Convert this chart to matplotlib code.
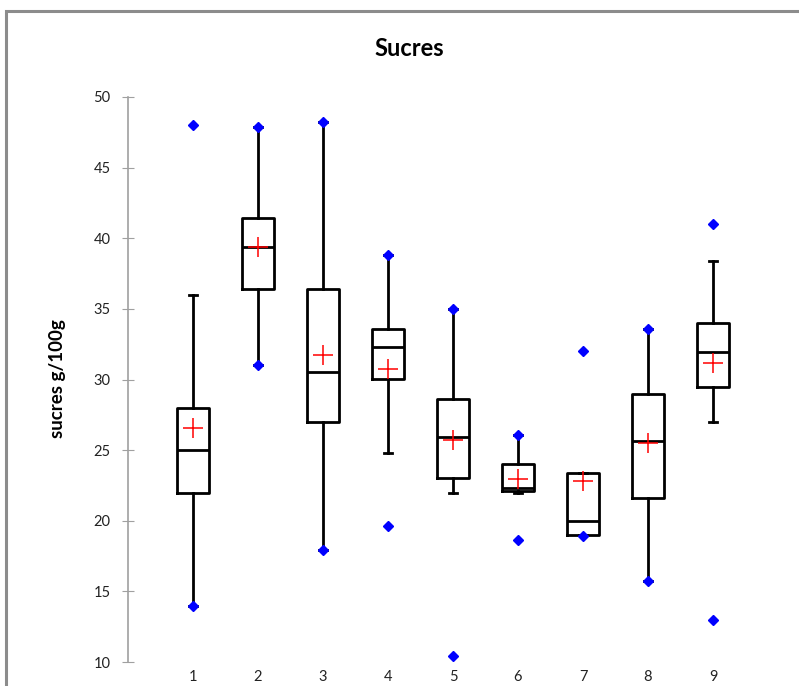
import matplotlib.pyplot as plt
import matplotlib.patches as patches

plt.rcParams['font.family'] = ['Lato', 'DejaVu Sans']

groups = ['1', '2', '3', '4', '5', '6', '7', '8', '9']
q1 = [22.0, 36.4, 27.0, 30.05, 23.05, 22.08, 19.0, 21.6, 29.45]
med = [25.0, 39.35, 30.5, 32.3, 25.9, 22.3, 20.0, 25.65, 31.95]
q3 = [28.0, 41.4, 36.4, 33.6, 28.6, 24.0, 23.35, 29.0, 34.0]
means = [26.6, 39.4, 31.75, 30.75, 25.75, 22.95, 22.8, 25.5, 31.2]
whis_lo = [14.0, 31.0, 17.95, 24.8, 22.0, 22.0, 19.0, 15.7, 27.0]
whis_hi = [36.0, 47.85, 48.2, 38.8, 35.0, 26.1, 23.35, 33.6, 38.4]
vmin = [14.0, 31.0, 17.95, 19.65, 10.45, 18.65, 18.9, 15.7, 12.95]
vmax = [48.0, 47.85, 48.2, 38.8, 35.0, 26.1, 32.0, 33.6, 41.0]

fig = plt.figure(figsize=(7.99, 6.86), dpi=100)
ax = fig.add_axes([128 / 799, 1 - 662 / 686, 650 / 799, 565 / 686])

stats = []
for i in range(len(groups)):
    stats.append(dict(label=groups[i], q1=q1[i], med=med[i], q3=q3[i],
                      whislo=whis_lo[i], whishi=whis_hi[i], fliers=[]))

pos = list(range(1, len(groups) + 1))
ax.bxp(stats, positions=pos, widths=0.5, capwidths=0.12,
       showfliers=False,
       boxprops=dict(color='black', linewidth=2.0),
       medianprops=dict(color='black', linewidth=2.0),
       whiskerprops=dict(color='black', linewidth=2.0),
       capprops=dict(color='black', linewidth=2.0))

# min / max as blue diamonds, means as red crosses
ax.plot(pos, vmin, linestyle='none', marker='D', color='#0000ff', markersize=5.5, zorder=5)
ax.plot(pos, vmax, linestyle='none', marker='D', color='#0000ff', markersize=5.5, zorder=5)
ax.plot(pos, means, linestyle='none', marker='+', color='red', markersize=15,
        markeredgewidth=1.1, zorder=6)

ax.set_xlim(0, 10)
ax.set_ylim(10, 50)
ax.set_yticks(range(10, 51, 5))
ax.set_xticks(pos)
ax.set_xticklabels(groups)

for s in ['top', 'right', 'bottom']:
    ax.spines[s].set_visible(False)
ax.spines['left'].set_color('#a0a0a0')
ax.spines['left'].set_linewidth(1.2)
ax.tick_params(axis='y', direction='inout', length=9, color='#a0a0a0',
               labelsize=10.5, pad=8, labelcolor='#222222')
ax.tick_params(axis='x', length=0, labelsize=10.5, pad=6, labelcolor='#222222')

fig.text(409 / 799, 1 - 48 / 686, 'Sucres', ha='center', va='center',
         fontsize=17, fontweight='bold')
fig.text(58 / 799, 1 - 379 / 686, 'sucres g/100g', ha='center', va='center',
         rotation=90, fontsize=13.5, fontweight='bold')

# outer chart frame
fig.patches.append(patches.Rectangle((6 / 799, -0.2), 1.2, 1 - 11 / 686 + 0.2,
                                     transform=fig.transFigure, fill=False,
                                     edgecolor='#8c8c8c', linewidth=2.2))

fig.savefig('out.png', dpi=100)
